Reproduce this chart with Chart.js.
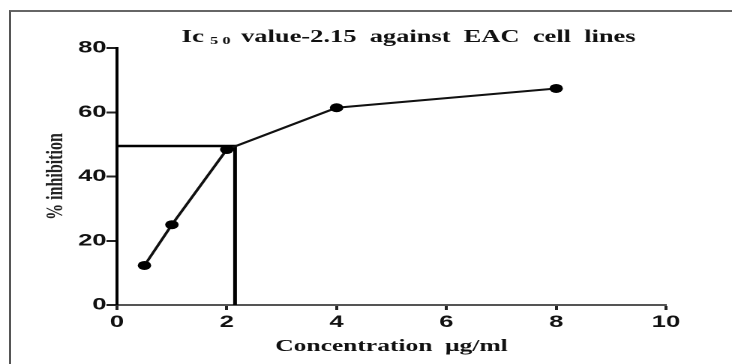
<!DOCTYPE html>
<html>
<head>
<meta charset="utf-8">
<script src="https://cdn.jsdelivr.net/npm/chart.js@4"></script>
<style>
    html, body { margin: 0; padding: 0; background: #fff; }
    body { width: 732px; height: 364px; position: relative; overflow: hidden; }
    #frame {
        position: absolute; left: 9px; top: 10px; right: -10px; bottom: -10px;
        border-top: 2px solid #666; border-left: 2px solid #555;
    }
    /* the figure is stretched sideways, so draw at 488px and widen by 1.5 */
    #wrap {
        position: absolute; left: 0; top: 0; width: 488px; height: 364px;
        transform: scaleX(1.5); transform-origin: 0 0;
    }
</style>
</head>
<body>
<div id="frame"></div>
<div id="wrap"><canvas id="ic50Chart"></canvas></div>
<script>
const concentrations = [0.5, 1, 2, 4, 8];
const inhibition = [12.3, 25, 48.4, 61.4, 67.4];
const ic50Value = 2.15;
const ic50Inhibition = 49.5;
const xTickValues = [0, 2, 4, 6, 8, 10];
const yTickValues = [0, 20, 40, 60, 80];

const serif = "'Liberation Serif', 'Times New Roman', serif";
const sans = "'Liberation Sans', Arial, sans-serif";

// title with the subscript 50
const titlePlugin = {
    id: 'ic50Title',
    afterDraw(chart) {
        const ctx = chart.ctx;
        ctx.save();
        ctx.fillStyle = '#111';
        ctx.textBaseline = 'alphabetic';
        ctx.font = `bold 18px ${serif}`;
        let x = 121;
        ctx.fillText('Ic', x, 42);
        x += ctx.measureText('Ic').width + 4;
        ctx.font = `bold 11px ${serif}`;
        ctx.fillText('5 0', x, 44);
        x += ctx.measureText('5 0').width + 7;
        ctx.font = `bold 18px ${serif}`;
        ctx.fillText('value-2.15  against  EAC  cell  lines', x, 42, 263);
        ctx.restore();
    }
};

new Chart(document.getElementById('ic50Chart').getContext('2d'), {
    type: 'scatter',
    data: {
        datasets: [
            {
                data: concentrations.map((c, i) => ({ x: c, y: inhibition[i] })),
                showLine: true,
                borderColor: '#111',
                borderWidth: 2,
                backgroundColor: '#000',
                pointRadius: 4.5,
                pointBorderWidth: 0
            },
            {
                data: [
                    { x: 0, y: ic50Inhibition },
                    { x: ic50Value, y: ic50Inhibition },
                    { x: ic50Value, y: 0 }
                ],
                showLine: true,
                borderColor: '#000',
                borderWidth: 2.5,
                pointRadius: 0
            }
        ]
    },
    options: {
        responsive: true,
        maintainAspectRatio: false,
        animation: false,
        devicePixelRatio: 2,
        layout: { padding: { top: 48, right: 44, left: 0, bottom: 0 } },
        plugins: { legend: { display: false }, tooltip: { enabled: false } },
        scales: {
            x: {
                type: 'linear',
                min: 0,
                max: 10,
                afterBuildTicks: s => { s.ticks = xTickValues.map(v => ({ value: v })); },
                afterFit: s => { s.height = 59; },
                border: { color: '#555', width: 2 },
                grid: { drawOnChartArea: false, tickLength: 5, tickWidth: 2, tickColor: '#222' },
                ticks: { color: '#111', padding: 2, font: { family: sans, size: 17, weight: 'bold' } },
                title: {
                    display: true,
                    text: 'Concentration  μg/ml',
                    color: '#111',
                    padding: { top: 0, bottom: 7 },
                    font: { family: serif, size: 17, weight: 'bold' }
                }
            },
            y: {
                min: 0,
                max: 80,
                afterBuildTicks: s => { s.ticks = yTickValues.map(v => ({ value: v })); },
                afterFit: s => { s.width = 78; },
                border: { color: '#000', width: 2 },
                grid: { drawOnChartArea: false, tickLength: 7, tickWidth: 2, tickColor: '#222' },
                ticks: { color: '#111', padding: 0, font: { family: sans, size: 17, weight: 'bold' } },
                title: {
                    display: true,
                    text: '% inhibition',
                    color: '#222',
                    padding: { top: 28, bottom: 0 },
                    font: { family: serif, size: 16, weight: 'bold' }
                }
            }
        }
    },
    plugins: [titlePlugin]
});
</script>
</body>
</html>
